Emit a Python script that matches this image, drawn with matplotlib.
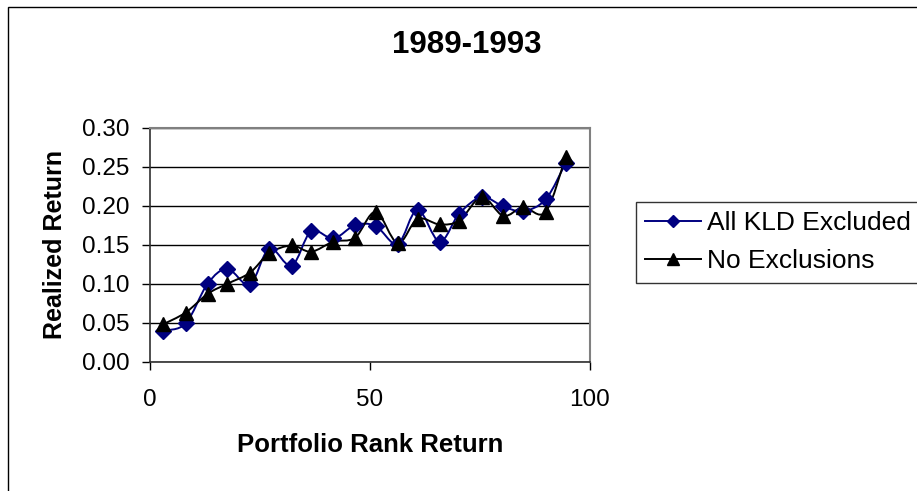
import numpy as np
import matplotlib
matplotlib.use("Agg")
import matplotlib.pyplot as plt
from matplotlib.path import Path
from matplotlib.patches import PathPatch, Rectangle
from matplotlib.lines import Line2D

plt.rcParams['font.family'] = ['Liberation Sans', 'DejaVu Sans']

# data
rank = [3.0, 8.1, 13.1, 17.6, 22.7, 27.1, 32.2, 36.6, 41.7, 46.6,
        51.3, 56.3, 60.8, 65.8, 70.3, 75.4, 80.3, 84.8, 89.9, 94.5]
kld_excluded = [0.040, 0.049, 0.100, 0.119, 0.099, 0.145, 0.123, 0.167, 0.158, 0.175,
                0.174, 0.151, 0.195, 0.154, 0.190, 0.211, 0.199, 0.193, 0.208, 0.255]
no_exclusions = [0.048, 0.063, 0.087, 0.100, 0.114, 0.139, 0.149, 0.141, 0.154, 0.159,
                 0.192, 0.152, 0.183, 0.176, 0.181, 0.211, 0.187, 0.198, 0.192, 0.263]
yticks = [0.00, 0.05, 0.10, 0.15, 0.20, 0.25, 0.30]
xticks = [0, 50, 100]


def smooth_path(x, y):
    # Excel-like smoothed line: cubic bezier through the points
    p = np.column_stack([x, y])
    verts = [p[0]]
    codes = [Path.MOVETO]
    n = len(p)
    for i in range(n - 1):
        p0 = p[i - 1] if i > 0 else p[i]
        p3 = p[i + 2] if i + 2 < n else p[i + 1]
        c1 = p[i] + (p[i + 1] - p0) / 6
        c2 = p[i + 1] - (p3 - p[i]) / 6
        verts += [c1, c2, p[i + 1]]
        codes += [Path.CURVE4] * 3
    return Path(verts, codes)


W, H = 917, 491
fig = plt.figure(figsize=(W / 100, H / 100), dpi=100)
ax = fig.add_axes([150 / W, 1 - 361.7 / H, 440 / W, 234 / H])

series = [(kld_excluded, '#000080', 'D', 8, 'All KLD Excluded'),
          (no_exclusions, 'black', '^', 10, 'No Exclusions')]
handles = []
for vals, col, mk, ms, lab in series:
    ax.add_patch(PathPatch(smooth_path(rank, vals), facecolor='none',
                           edgecolor=col, lw=1.4))
    ax.plot(rank, vals, ls='none', marker=mk, ms=ms, color=col, mec=col)
    handles.append(Line2D([], [], color=col, lw=1.4, marker=mk, ms=ms * 0.8, mec=col, label=lab))

ax.set_xlim(0, 100)
ax.set_ylim(0, 0.30)
ax.set_xticks(xticks)
ax.set_yticks(yticks)
ax.set_yticklabels([f"{v:.2f}" for v in yticks])
ax.yaxis.grid(True, color='black', lw=1)
ax.set_axisbelow(True)
ax.tick_params(axis='y', direction='out', length=6, width=1, labelsize=17.5, pad=9)
ax.tick_params(axis='x', direction='out', length=6, width=1, labelsize=17.5, pad=14)
for s in ['top', 'right']:
    ax.spines[s].set_color('#808080')
    ax.spines[s].set_linewidth(1.5)
for s in ['left', 'bottom']:
    ax.spines[s].set_color('#303030')
    ax.spines[s].set_linewidth(1.2)

ax.set_xlabel('Portfolio Rank Return', fontsize=18.5, fontweight='bold')
ax.xaxis.label.set_va('center')
ax.xaxis.set_label_coords(0.5, (361.7 - 445) / 234)
ax.set_ylabel('Realized Return', fontsize=18, fontweight='bold')
ax.yaxis.label.set_va('center')
ax.yaxis.set_label_coords((55 - 150) / 440, 0.5)

fig.text(467 / W, 1 - 45 / H, '1989-1993', ha='center', va='center',
         fontsize=22.5, fontweight='bold')

leg = ax.legend(handles=handles, loc='upper left',
                bbox_to_anchor=(636 / W, 1 - 201.7 / H), bbox_transform=fig.transFigure,
                borderaxespad=0, fontsize=19, frameon=True, fancybox=False,
                edgecolor='black', handlelength=2.1, handletextpad=0.25,
                borderpad=0.35, labelspacing=0.55)
leg.get_frame().set_linewidth(1)

# chart area border (runs off the right and bottom edges)
fig.patches.append(Rectangle((8 / W, -0.1), 1.2, 1 - 7 / H + 0.1, transform=fig.transFigure,
                             fill=False, edgecolor='black', lw=1))

fig.savefig('out.png', dpi=100)
